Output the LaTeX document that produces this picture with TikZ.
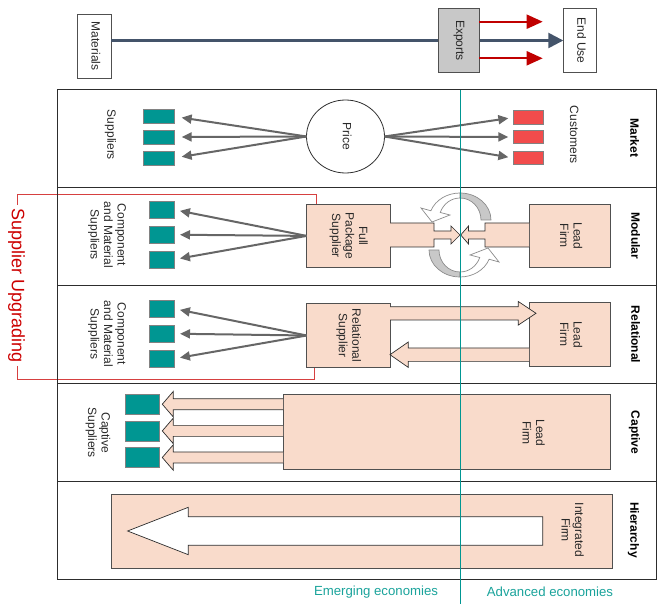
\documentclass[tikz,border=0pt]{standalone}
\usepackage{fontspec}
\setmainfont{Liberation Sans}
\usetikzlibrary{arrows.meta,shapes.geometric}
\definecolor{tealc}{RGB}{0,150,146}
\definecolor{teallab}{RGB}{26,163,155}
\definecolor{peach}{RGB}{249,219,203}
\definecolor{redsq}{RGB}{242,76,76}
\definecolor{fang}{RGB}{102,102,102}
\definecolor{slate}{RGB}{68,84,106}
\definecolor{darkred}{RGB}{192,0,0}
\definecolor{upred}{RGB}{204,0,0}
\definecolor{bracketred}{RGB}{214,64,64}
\definecolor{linec}{RGB}{45,45,45}
\definecolor{boxline}{RGB}{80,80,80}
\definecolor{sqline}{RGB}{130,130,130}
\definecolor{txt}{RGB}{40,40,40}
\definecolor{ringgray}{RGB}{200,200,200}
\definecolor{ringline}{RGB}{140,140,140}
\definecolor{expgray}{RGB}{200,200,200}
\newcommand\vtext[1]{\rotatebox{-90}{\begin{tabular}{@{}c@{}}#1\end{tabular}}}
\newcommand\ringarrow{%
  \filldraw[fill=ringgray, draw=ringline, line width=0.7pt]
    (491,220) arc[start angle=0, end angle=-90, x radius=31, y radius=27]
    -- (460,198) arc[start angle=-90, end angle=0, x radius=21, y radius=22] -- cycle;
  \filldraw[fill=white, draw=ringline, line width=0.7pt]
    (460,193) arc[start angle=-90, end angle=-160, x radius=31, y radius=27]
    -- (421,208) -- (432,222) -- (450,215) -- (440.27,212.48)
    arc[start angle=-160, end angle=-90, x radius=21, y radius=22] -- cycle;
}
\begin{document}
\begin{tikzpicture}[x=1pt,y=-1pt,
  every node/.style={font=\fontsize{12}{13.5}\selectfont, text=txt, inner sep=0pt, outer sep=0pt},
  topbox/.style={draw=boxline, line width=0.8pt, fill=white, minimum height=64.4pt},
  firmbox/.style={draw=boxline, line width=0.8pt, fill=peach},
  tsq/.style={draw=sqline, line width=0.6pt, fill=tealc},
  rsq/.style={draw=sqline, line width=0.6pt, fill=redsq},
  fan/.style={draw=fang, line width=2pt, -{Triangle[length=10pt,width=9pt]}},
  rowlab/.style={font=\fontsize{12}{13.5}\selectfont\bfseries, text=black},
  blockarrow/.style={fill=peach, draw=linec, line width=0.7pt},
  ecolab/.style={font=\fontsize{13.2}{15}\selectfont, text=teallab}
]
\useasboundingbox (0,0) rectangle (657,604);

% ---------- top strip ----------
\node[topbox, minimum width=34pt, minimum height=64.3pt] (mat) at (94.3,46.2) {\vtext{Materials}};
\node[topbox, minimum width=33.4pt] (enduse) at (580,40.5) {\vtext{End Use}};
\draw[slate, line width=2.5pt, -{Triangle[length=15pt,width=15pt]}] (mat.east |- enduse.west) -- (enduse.west);
\node[topbox, fill=expgray, minimum width=41pt] (exp) at (458.8,40.5) {\vtext{Exports}};
\coordinate (r1) at (542.7,21.7);
\coordinate (r2) at (542.7,58.3);
\draw[darkred, line width=2pt, -{Triangle[length=16pt,width=14pt]}] (exp.east |- r1) -- (r1);
\draw[darkred, line width=2pt, -{Triangle[length=16pt,width=14pt]}] (exp.east |- r2) -- (r2);

% ---------- supplier upgrading bracket ----------
\draw[bracketred, line width=0.9pt] (17,205) -- (17,194) -- (316,194) -- (316,204);
\draw[bracketred, line width=0.9pt] (17,366) -- (17,379) -- (314,379) -- (314,367.7);
\node[text=upred, font=\fontsize{18}{20}\selectfont] (upg) at (16.5,286) {\rotatebox{-90}{Supplier Upgrading}};

% ---------- frame ----------
\draw[linec, line width=1pt] (57,90) rectangle (656,579);
\foreach \yy in {187.8,285.6,383.4,481.2} \draw[linec, line width=1pt] (57,\yy) -- (656,\yy);

% row labels
\node[rowlab] (lmarket) at (633,138) {\vtext{Market}};
\node[rowlab] (lmodular) at (634,236) {\vtext{Modular}};
\node[rowlab] (lrel) at (634,334.5) {\vtext{Relational}};
\node[rowlab] (lcapt) at (634,432.5) {\vtext{Captive}};
\node[rowlab] (lhier) at (633,530) {\vtext{Hierarchy}};

% ---------- Market ----------
\node[ellipse, draw=linec, line width=0.8pt, fill=white, minimum width=78pt, minimum height=73pt] (price) at (345.5,136.5) {\vtext{Price}};
\node[tsq, minimum width=31pt, minimum height=14pt] (ms1) at (158.7,116.5) {};
\node[tsq, minimum width=31pt, minimum height=14pt] (ms2) at (158.7,137) {};
\node[tsq, minimum width=31pt, minimum height=14pt] (ms3) at (158.7,158) {};
\node[rsq, minimum width=30pt, minimum height=13.5pt] (mc1) at (528.3,117.5) {};
\node[rsq, minimum width=30pt, minimum height=13.5pt] (mc2) at (528.3,137) {};
\node[rsq, minimum width=30pt, minimum height=13.5pt] (mc3) at (528.3,158) {};
\node (tsup) at (110,135) {\vtext{Suppliers}};
\node (tcust) at (572.7,135) {\vtext{Customers}};
\foreach \s in {ms1,ms2,ms3} \draw[fan, shorten >=7.5pt] (price.west) -- (\s.east);
\foreach \s in {mc1,mc2,mc3} \draw[fan, shorten >=5pt] (price.east) -- (\s.west);

% ---------- Modular ----------
\node[firmbox, minimum width=83.3pt, minimum height=63.7pt] (fps) at (348.3,235.9) {\vtext{Full\\Package\\Supplier}};
\node[firmbox, minimum width=81pt, minimum height=63.7pt] (lfm) at (569.5,235.9) {\vtext{Lead\\Firm}};
\node[tsq, minimum width=25pt, minimum height=17pt] (ds1) at (161.5,209.7) {};
\node[tsq, minimum width=25pt, minimum height=17pt] (ds2) at (161.5,234.7) {};
\node[tsq, minimum width=25pt, minimum height=17pt] (ds3) at (161.5,259.5) {};
\node (tcomp1) at (106.7,235) {\vtext{Component\\and Material\\Suppliers}};
\foreach \s in {ds1,ds2,ds3} \draw[fan, shorten >=6pt] (fps.west) -- (\s.east);
\filldraw[blockarrow] (390,223) -- (434,223) -- (434,231) -- (451,231) -- (451,226) -- (460,235)
  -- (451,244) -- (451,239) -- (434,239) -- (434,247) -- (390,247);
\filldraw[blockarrow] (529,223) -- (485,223) -- (485,231) -- (468.5,231) -- (468.5,226) -- (460.7,235)
  -- (468.5,244) -- (468.5,239) -- (485,239) -- (485,247) -- (529,247);
\ringarrow
\begin{scope}[rotate around={180:(460,235)}]
\ringarrow
\end{scope}

% ---------- Relational ----------
\node[firmbox, minimum width=83.3pt, minimum height=64.4pt] (rsup) at (348.3,335.5) {\vtext{Relational\\Supplier}};
\node[firmbox, minimum width=81pt, minimum height=64.4pt] (lfr) at (569.5,334.5) {\vtext{Lead\\Firm}};
\node[tsq, minimum width=25pt, minimum height=17pt] (rs1) at (161.5,308.7) {};
\node[tsq, minimum width=25pt, minimum height=17pt] (rs2) at (161.5,333.7) {};
\node[tsq, minimum width=25pt, minimum height=17pt] (rs3) at (161.5,358.7) {};
\node (tcomp2) at (106.7,334) {\vtext{Component\\and Material\\Suppliers}};
\foreach \s in {rs1,rs2,rs3} \draw[fan, shorten >=6pt] (rsup.west) -- (\s.east);
\filldraw[blockarrow] (390,306.7) -- (518.3,306.7) -- (518.3,301.5) -- (536,313.3) -- (518.3,325.1) -- (518.3,320) -- (390,320);
\filldraw[blockarrow] (529,348) -- (408.3,348) -- (408.3,342) -- (390,354.7) -- (408.3,367.4) -- (408.3,361.4) -- (529,361.4);

% ---------- Captive ----------
\node[firmbox, minimum width=327pt, minimum height=75pt] (lfc) at (446.5,431.8) {};
\node (tlfc) at (532,433) {\vtext{Lead\\Firm}};
\node[tsq, minimum width=34pt, minimum height=20pt] (cs1) at (142,404.2) {};
\node[tsq, minimum width=34pt, minimum height=20pt] (cs2) at (142,430.9) {};
\node[tsq, minimum width=34pt, minimum height=20pt] (cs3) at (142,457.5) {};
\node (tcapt) at (97.5,432.7) {\vtext{Captive\\Suppliers}};
\foreach \yy in {404.2,430.9,457.5}
  \filldraw[blockarrow] (283,\yy-5.5) -- (173.3,\yy-5.5) -- (173.3,\yy-12.8) -- (162.3,\yy)
    -- (173.3,\yy+12.8) -- (173.3,\yy+5.5) -- (283,\yy+5.5);

% ---------- Hierarchy ----------
\node[firmbox, minimum width=501.3pt, minimum height=74.3pt] (intf) at (361.65,531.15) {};
\filldraw[fill=white, draw=linec, line width=0.7pt] (542.7,516.7) -- (188.3,516.7) -- (188.3,507.3) -- (127.6,531)
  -- (188.3,554.7) -- (188.3,545.3) -- (542.7,545.3) -- cycle;
\node (tintf) at (571,530) {\vtext{Integrated\\Firm}};

% ---------- divider and economies ----------
\draw[tealc, line width=1.6pt] (460.5,90) -- (460.5,604);
\node[ecolab] (emerg) at (376,592) {Emerging economies};
\node[ecolab] (adv) at (550,592) {Advanced economies};
\end{tikzpicture}
\end{document}
